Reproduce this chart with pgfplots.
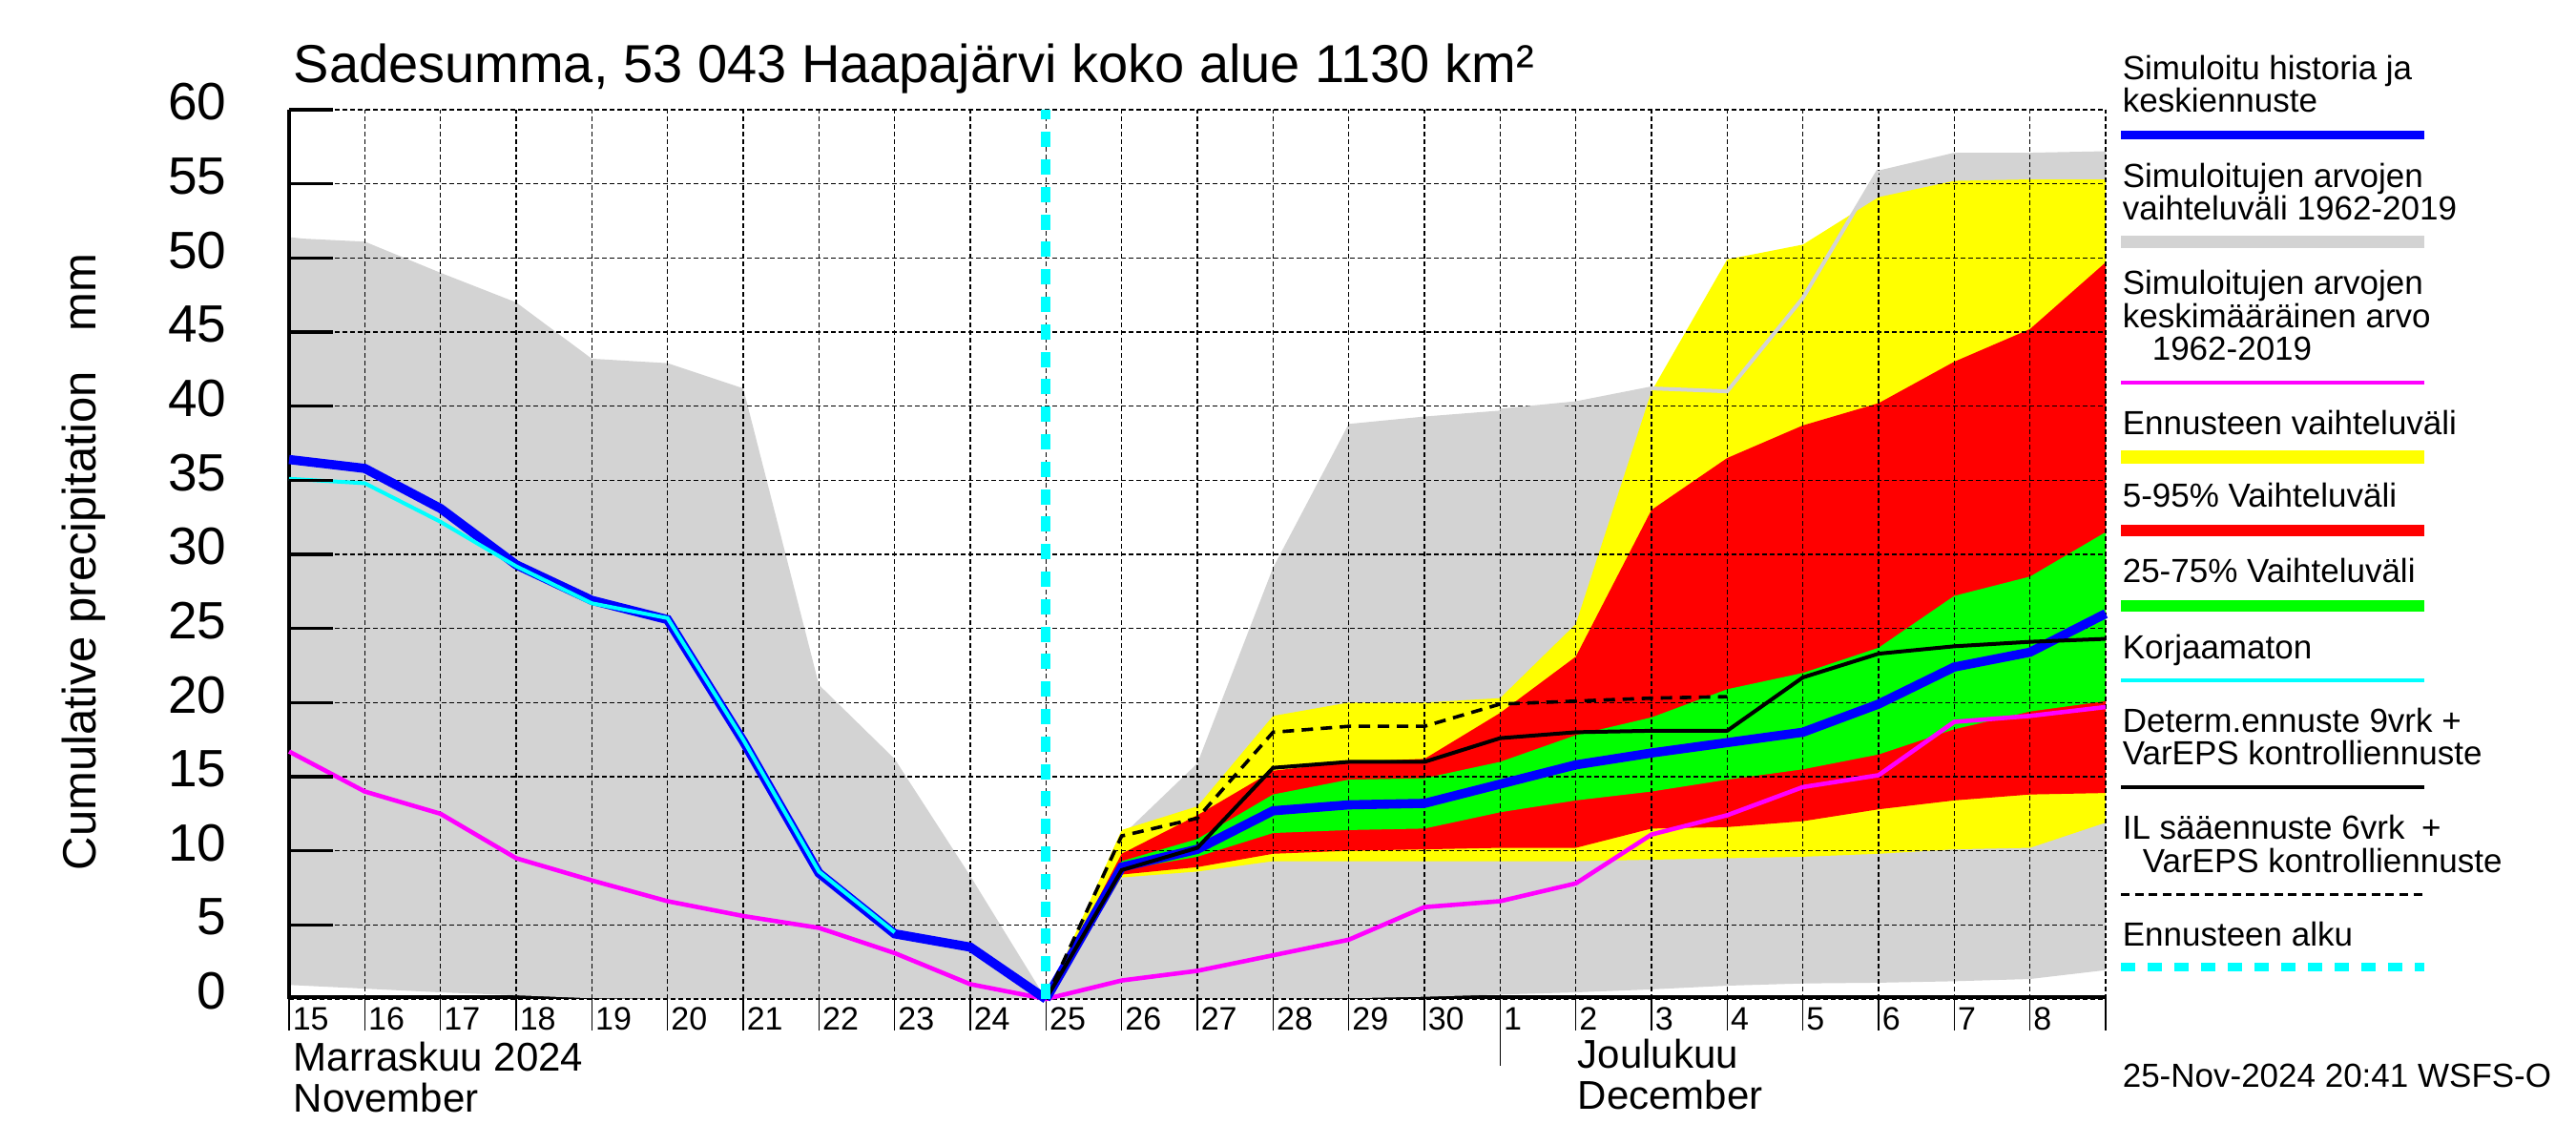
\documentclass[border=0pt]{standalone}
\usepackage{fontspec}
\setmainfont{Liberation Sans}
\usepackage{pgfplots}
\pgfplotsset{compat=1.18}
\definecolor{lgray}{RGB}{211,211,211}
\definecolor{cyanx}{RGB}{0,255,255}
\definecolor{magx}{RGB}{255,0,255}
\definecolor{yelx}{RGB}{255,255,0}
\definecolor{grnx}{RGB}{0,255,0}
\definecolor{redx}{RGB}{255,0,0}
\definecolor{blux}{RGB}{0,0,255}
\newcommand{\fs}[1]{\fontsize{#1}{#1}\selectfont}
\pgfplotsset{geom/.style={at={(75.75pt,38.25pt)}, anchor=south west,
  width=476pt, height=233pt, scale only axis,
  xmin=0, xmax=24, ymin=0, ymax=60}}

\begin{document}
\begin{tikzpicture}
\path[use as bounding box] (0,0) rectangle (675pt,300pt);
\begin{axis}[geom,
  axis on top,
  axis y line*=left, axis x line*=bottom,
  x axis line style={draw=none},
  y axis line style={line width=1.15pt, black},
  xtick={0,...,24},
  xticklabels={15,16,17,18,19,20,21,22,23,24,25,26,27,28,29,30,1,2,3,4,5,6,7,8,{}},
  ytick={0,5,...,60},
  grid=major,
  major grid style={black, line width=0.35pt, dash pattern=on 1.2pt off 0.8pt},
  tick align=outside,
  major tick length=8.25pt,
  xtick style={black, line width=0.4pt},
  ytick style={draw=none},
  minor xtick={16},
  minor tick length=17.5pt,
  xticklabel style={font=\fs{8.5}, anchor=base west, inner sep=0pt, xshift=0.75pt},
  yticklabel style={font=\fs{13.75}, anchor=east, inner sep=0pt, xshift=-8pt, yshift=2pt},
  /pgf/number format/assume math mode=true,
]
% bottom axis line (under the fills)
\addplot[black, line width=1pt] coordinates {(0,0.13) (24,0.13)};
% simulated range 1962-2019
\addplot[fill=lgray, draw=none] coordinates {
(0,51.4)(0.2,51.3)(1,51.1)(2,49.0)(3,47.0)(4,43.2)(5,42.9)(6,41.2)(7,21.2)(8,16.2)(9,8.3)(10,0)
(11,11.0)(12,15.9)(13,29.1)(14,38.8)(15,39.3)(16,39.7)(17,40.2)(18,41.2)(19,41.0)(20,47.3)(21,55.9)(22,57.1)(23,57.1)(24,57.2)
(24,1.95)(23,1.35)(22,1.2)(21,1.1)(20,1.05)(19,0.9)(18,0.65)(17,0.45)(16,0.3)(15,0.15)(14,0.05)(13,0)
(5,0)(4,0.05)(3,0.25)(2,0.45)(1,0.7)(0,0.95)};
% forecast range
\addplot[fill=yelx, draw=none] coordinates {
(10,0)(11,11.4)(12,13.0)(13,19.1)(14,20.0)(15,20.0)(16,20.3)(17,25.3)(18,41.0)(19,49.9)(20,50.9)(21,54.1)(22,55.2)(23,55.3)(24,55.3)
(24,11.9)(23,10.2)(22,10.1)(21,9.8)(20,9.6)(19,9.5)(18,9.4)(17,9.3)(16,9.3)(15,9.3)(14,9.3)(13,9.3)(12,8.6)(11,8.2)};
% 5-95 %
\addplot[fill=redx, draw=none] coordinates {
(10,0)(11,9.8)(12,12.4)(13,15.4)(14,16.0)(15,16.2)(16,19.3)(17,23.1)(18,33.0)(19,36.5)(20,38.7)(21,40.2)(22,43.0)(23,45.2)(24,49.7)
(24,13.9)(23,13.8)(22,13.4)(21,12.8)(20,12.0)(19,11.6)(18,11.5)(17,10.2)(16,10.2)(15,10.1)(14,10.0)(13,9.8)(12,8.9)(11,8.4)};
% 25-75 %
\addplot[fill=grnx, draw=none] coordinates {
(10,0)(11,9.3)(12,10.8)(13,13.8)(14,14.8)(15,14.9)(16,16.0)(17,17.8)(18,19.0)(19,20.9)(20,22.0)(21,23.7)(22,27.2)(23,28.5)(24,31.5)
(24,20.1)(23,19.4)(22,18.2)(21,16.5)(20,15.5)(19,14.8)(18,14.0)(17,13.4)(16,12.6)(15,11.5)(14,11.4)(13,11.2)(12,9.6)(11,8.7)};
\end{axis}

\begin{axis}[geom, clip=false,
  axis x line=none, axis y line*=left,
  y axis line style={line width=1.15pt, black},
  ytick=\empty, grid=none]
% upper edge of the simulated range, seen through the yellow
\addplot[lgray, line width=1pt] coordinates {(16,39.7)(17,40.2)(18,41.2)(19,41.0)(20,47.3)(21,55.9)};
% mean 1962-2019
\addplot[magx, line width=1.15pt] coordinates {
(0,16.7)(1,14.0)(2,12.5)(3,9.5)(4,8.0)(5,6.6)(6,5.6)(7,4.8)(8,3.1)(9,1.0)(10,0)
(11,1.25)(12,1.9)(13,2.95)(14,4.0)(15,6.2)(16,6.6)(17,7.8)(18,11.1)(19,12.4)(20,14.3)(21,15.1)(22,18.7)(23,19.1)(24,19.7)};
% simulated history
\addplot[blux, line width=2.4pt] coordinates {
(0,36.4)(1,35.8)(2,33.1)(3,29.3)(4,26.9)(5,25.6)(6,17.4)(7,8.5)(8,4.4)(9,3.5)(10,0)};
% uncorrected
\addplot[cyanx, line width=1pt] coordinates {
(0,35.1)(1,34.8)(2,32.2)(3,29.2)(4,26.7)(5,25.7)(6,17.5)(7,8.6)(8,4.5)};
% mean forecast
\addplot[blux, line width=2.4pt] coordinates {
(10,0)(11,8.9)(12,10.1)(13,12.7)(14,13.1)(15,13.2)(16,14.5)(17,15.8)(18,16.6)(19,17.3)(20,18.0)(21,19.9)(22,22.4)(23,23.4)(24,26.0)};
% determ. forecast
\addplot[black, line width=1pt] coordinates {
(10,0)(11,8.7)(12,10.2)(13,15.6)(14,16.0)(15,16.0)(16,17.6)(17,18.0)(18,18.1)(19,18.1)(20,21.7)(21,23.3)(22,23.8)(23,24.1)(24,24.3)};
% IL forecast
\addplot[black, line width=0.9pt, dash pattern=on 3pt off 2pt] coordinates {
(10,0)(11,11.0)(12,12.2)(13,18.0)(14,18.4)(15,18.4)(16,19.9)(17,20.1)(18,20.3)(19,20.4)};
% forecast start
\addplot[cyanx, line width=2.5pt, dash pattern=on 4pt off 3.2pt] coordinates {(10,0)(10,60)};
\end{axis}

% inward y ticks on the left axis
\foreach \k in {1,...,12}
  \draw[black, line width=0.8pt] (75.75pt,{(38.25+19.41667*\k)*1pt}) -- ++(11.5pt,0);

% title and axis texts
\node[anchor=base west, inner sep=0pt, font=\fs{14}] at (76.75pt,278.25pt) {Sadesumma, 53 043 Haapajärvi koko alue 1130 km²};
\node[rotate=90, anchor=base, inner sep=0pt, font=\fs{12.25}] at (25pt,152.75pt) {Cumulative precipitation\hspace{0.85em}mm};
\node[anchor=base west, inner sep=0pt, font=\fs{10.5}] at (76.75pt,19.5pt) {Marraskuu 2024};
\node[anchor=base west, inner sep=0pt, font=\fs{10.5}] at (76.75pt,8.75pt) {November};
\node[anchor=base west, inner sep=0pt, font=\fs{10.5}] at (413.25pt,20pt) {Joulukuu};
\node[anchor=base west, inner sep=0pt, font=\fs{10.5}] at (413.25pt,9.25pt) {December};

% legend
\begin{scope}[every node/.style={anchor=base west, inner sep=0pt, font=\fs{8.75}}]
\node at (556pt,279pt) {Simuloitu historia ja};
\node at (556pt,270.5pt) {keskiennuste};
\draw[blux, line width=2.4pt] (555.75pt,264.6pt) -- (635.25pt,264.6pt);
\node at (556pt,250.75pt) {Simuloitujen arvojen};
\node at (556pt,242.25pt) {vaihteluväli 1962-2019};
\draw[lgray, line width=3.25pt] (555.75pt,236.5pt) -- (635.25pt,236.5pt);
\node at (556pt,222.75pt) {Simuloitujen arvojen};
\node at (556pt,214pt) {keskimääräinen arvo};
\node at (563.75pt,205.5pt) {1962-2019};
\draw[magx, line width=1.15pt] (555.75pt,199.75pt) -- (635.25pt,199.75pt);
\node at (556pt,186pt) {Ennusteen vaihteluväli};
\draw[yelx, line width=3.5pt] (555.75pt,180.25pt) -- (635.25pt,180.25pt);
\node at (556pt,167pt) {5-95\% Vaihteluväli};
\draw[redx, line width=3.15pt] (555.75pt,161pt) -- (635.25pt,161pt);
\node at (556pt,147.25pt) {25-75\% Vaihteluväli};
\draw[grnx, line width=3pt] (555.75pt,141.25pt) -- (635.25pt,141.25pt);
\node at (556pt,127.25pt) {Korjaamaton};
\draw[cyanx, line width=1pt] (555.75pt,121.75pt) -- (635.25pt,121.75pt);
\node at (556pt,108pt) {Determ.ennuste 9vrk +};
\node at (556pt,99.5pt) {VarEPS kontrolliennuste};
\draw[black, line width=1pt] (555.75pt,93.75pt) -- (635.25pt,93.75pt);
\node at (556pt,80pt) {IL sääennuste 6vrk\hspace{0.5em}+};
\node at (561.25pt,71.25pt) {VarEPS kontrolliennuste};
\draw[black, line width=0.75pt, dash pattern=on 2.25pt off 1.4pt] (555.75pt,65.6pt) -- (635.25pt,65.6pt);
\node at (556pt,52pt) {Ennusteen alku};
\draw[cyanx, line width=2.25pt, dash pattern=on 3.75pt off 3.25pt] (555.75pt,46.5pt) -- (635.25pt,46.5pt);
\node at (556pt,15pt) {25-Nov-2024 20:41 WSFS-O};
\end{scope}
\end{tikzpicture}
\end{document}
